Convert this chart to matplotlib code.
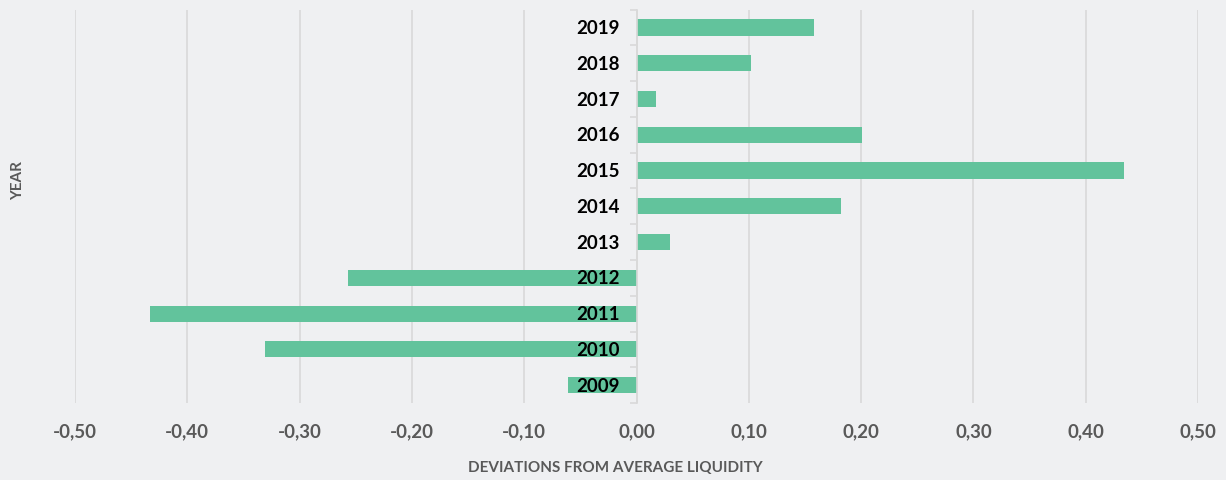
import matplotlib
matplotlib.use("Agg")
import matplotlib.pyplot as plt
import matplotlib.transforms as mtransforms
from matplotlib.ticker import FixedLocator, FuncFormatter, NullFormatter

years = ["2009", "2010", "2011", "2012", "2013", "2014", "2015", "2016", "2017", "2018", "2019"]
values = [-0.061, -0.331, -0.433, -0.257, 0.030, 0.182, 0.434, 0.201, 0.017, 0.102, 0.158]
xticks = [-0.5, -0.4, -0.3, -0.2, -0.1, 0.0, 0.1, 0.2, 0.3, 0.4, 0.5]

bg = "#eff0f2"
bar_color = "#62c39c"

plt.rcParams['font.family'] = ['Lato', 'DejaVu Sans']

fig = plt.figure(figsize=(12.26, 4.81), dpi=100, facecolor=bg)
ax = fig.add_axes([0.0612, 0.16, 0.9160, 0.818])
ax.set_facecolor(bg)

pos = list(range(len(years)))
ax.barh(pos, values, height=0.45, color=bar_color, zorder=3)

ax.set_xlim(-0.5, 0.5)
ax.set_ylim(-0.5, len(years) - 0.5)

ax.set_xticks(xticks)
ax.xaxis.set_major_formatter(FuncFormatter(lambda v, p: f"{v:.2f}".replace(".", ",").replace("-0,00", "0,00")))
ax.tick_params(axis='x', length=0, pad=14, labelsize=13.5, labelcolor="#595959")
for lab in ax.get_xticklabels():
    lab.set_fontweight('bold')
ax.grid(axis='x', color="#d9d9d9", linewidth=1.2, zorder=0)

for s in ['top', 'right', 'bottom']:
    ax.spines[s].set_visible(False)
ax.spines['left'].set_position(('data', 0))
ax.spines['left'].set_color("#d9d9d9")
ax.spines['left'].set_linewidth(1.2)
ax.spines['left'].set_zorder(4)

ax.set_yticks(pos)
ax.yaxis.set_major_formatter(NullFormatter())
ax.yaxis.set_minor_locator(FixedLocator([p - 0.5 for p in pos] + [len(years) - 0.5]))
ax.tick_params(axis='y', which='major', length=0)
ax.tick_params(axis='y', which='minor', length=5, color="#d9d9d9", width=1.2)

trans = mtransforms.offset_copy(ax.transData, fig=fig, x=-17, y=0, units='dots')
for p, y in zip(pos, years):
    ax.text(0, p, y, transform=trans, ha='right', va='center', fontsize=13.5,
            fontweight='bold', color='black', zorder=6)

fig.text(0.502, 0.027, "DEVIATIONS FROM AVERAGE LIQUIDITY", ha='center', va='center',
         fontsize=11, fontweight='bold', color="#595959")
fig.text(0.015, 0.625, "YEAR", ha='center', va='center', rotation=90,
         fontsize=11, fontweight='bold', color="#595959")

fig.savefig("out.png", dpi=100, facecolor=bg)
